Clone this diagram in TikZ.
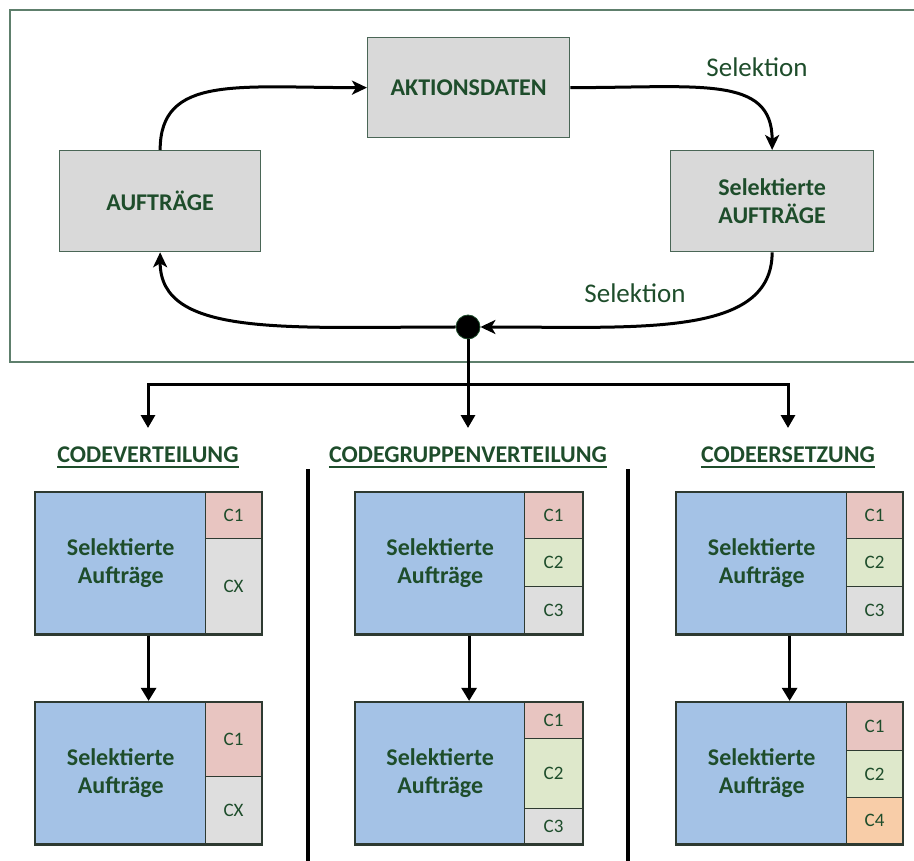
\documentclass[tikz,border=0pt]{standalone}
\usepackage{fontspec}
\setmainfont{Carlito}
\usetikzlibrary{arrows.meta,fit}
\definecolor{txtgreen}{HTML}{1E4D2B}
\definecolor{edge}{HTML}{4A6656}
\definecolor{cedge}{HTML}{2E3A31}
\definecolor{framec}{HTML}{5E7F6C}
\definecolor{boxgray}{HTML}{D9D9D9}
\definecolor{selblue}{HTML}{A4C2E6}
\definecolor{cred}{HTML}{E8C5C1}
\definecolor{cgreen}{HTML}{DEE8CB}
\definecolor{cgray}{HTML}{DEDEDE}
\definecolor{corange}{HTML}{F8CDA8}
\begin{document}
\begin{tikzpicture}[x=1pt,y=-1pt,
  bigbold/.style={font=\fontsize{24}{28}\selectfont\bfseries, text=txtgreen},
  topbox/.style={bigbold, draw=edge, line width=1.3, fill=boxgray, anchor=north west,
    inner sep=0, align=center},
  sellabel/.style={font=\fontsize{27}{32}\selectfont, text=txtgreen, inner sep=0},
  flow/.style={line width=3, -{Stealth[length=15,width=14,inset=4]}},
  link/.style={line width=3, -{Triangle[length=13,width=14]}},
  blk/.style={bigbold, draw=cedge, line width=1.4, fill=selblue, anchor=north west,
    inner sep=0, align=center},
  cell/.style={draw=cedge, line width=1.2, anchor=north west, inner sep=0,
    font=\fontsize{19}{22}\selectfont, text=txtgreen},
  outer/.style={draw=cedge, line width=2.2, inner sep=0},
  head/.style={bigbold, inner sep=0},
  uline/.style={line width=1.6, txtgreen},
  stepline/.style={line width=2.8, -{Triangle[length=13,width=15]}},
  sep/.style={line width=4.5}
]
\useasboundingbox (0,0) rectangle (914,861);

% frame around the cycle (open on the right side)
\draw[framec, line width=1.3] (920,10) -- (10,10) -- (10,362) -- (920,362);

% cycle boxes
\node[topbox, minimum width=202, minimum height=100] (akt) at (367,37) {AKTIONSDATEN};
\node[topbox, minimum width=201, minimum height=101] (auf) at (59,150) {AUFTRÄGE};
\node[topbox, minimum width=203, minimum height=101] (sel) at (670,150) {Selektierte\\AUFTRÄGE};

% junction dot
\node[circle, fill=black, draw=txtgreen, line width=0.8, minimum size=24, inner sep=0] (dot) at (468,327) {};

% cycle connectors
\draw[flow] (auf.north) .. controls +(0,-75) and +(-130,0) .. (akt.west);
\draw[flow] (akt.east) .. controls +(130,0) and +(0,-75) .. (sel.north);
\draw[flow] (sel.south) .. controls +(0,85) and +(160,0) .. (dot.east);
\draw[flow] (dot.west) .. controls +(-170,0) and +(0,85) .. (auf.south);

\node[sellabel] (lab1) at (757,67) {Selektion};
\node[sellabel] (lab2) at (635,293) {Selektion};

% distribution to the three methods
\coordinate (bar) at (468,385);
\coordinate (t1) at (148,428);
\coordinate (t2) at (468,428);
\coordinate (t3) at (788,428);
\draw[link] (dot.south) -- (t2);
\draw[link] (bar) -| (t1);
\draw[link] (bar) -| (t3);

% headings
\node[head] (h1) at (148,455) {CODEVERTEILUNG};
\node[head] (h2) at (468,455) {CODEGRUPPENVERTEILUNG};
\node[head] (h3) at (788,455) {CODEERSETZUNG};
\foreach \h in {h1,h2,h3}
  \draw[uline] ([yshift=-4]\h.base west) -- ([yshift=-4]\h.base east);

% column separators
\coordinate (s1a) at (308,469); \coordinate (s1b) at (308,870);
\coordinate (s2a) at (628,469); \coordinate (s2b) at (628,870);
\draw[sep] (s1a) -- (s1b);
\draw[sep] (s2a) -- (s2b);

% --- CODEVERTEILUNG ---
\node[blk, minimum width=170, minimum height=141] (a1) at (35,492) {Selektierte\\Aufträge};
\node[cell, fill=cred,  minimum width=56, minimum height=46] (a1c1) at (205,492) {C1};
\node[cell, fill=cgray, minimum width=56, minimum height=95] (a1cx) at (205,538) {CX};
\node[outer, fit=(a1)(a1c1)(a1cx)] (A1) {};

\node[blk, minimum width=170, minimum height=141] (a2) at (35,702) {Selektierte\\Aufträge};
\node[cell, fill=cred,  minimum width=56, minimum height=74] (a2c1) at (205,702) {C1};
\node[cell, fill=cgray, minimum width=56, minimum height=67] (a2cx) at (205,776) {CX};
\node[outer, fit=(a2)(a2c1)(a2cx)] (A2) {};
\draw[stepline] (A1.south) -- (A2.north);

% --- CODEGRUPPENVERTEILUNG ---
\node[blk, minimum width=169, minimum height=141] (b1) at (355,492) {Selektierte\\Aufträge};
\node[cell, fill=cred,   minimum width=58, minimum height=46] (b1c1) at (524,492) {C1};
\node[cell, fill=cgreen, minimum width=58, minimum height=48] (b1c2) at (524,538) {C2};
\node[cell, fill=cgray,  minimum width=58, minimum height=47] (b1c3) at (524,586) {C3};
\node[outer, fit=(b1)(b1c1)(b1c3)] (B1) {};

\node[blk, minimum width=169, minimum height=141] (b2) at (355,702) {Selektierte\\Aufträge};
\node[cell, fill=cred,   minimum width=58, minimum height=36] (b2c1) at (524,702) {C1};
\node[cell, fill=cgreen, minimum width=58, minimum height=70] (b2c2) at (524,738) {C2};
\node[cell, fill=cgray,  minimum width=58, minimum height=35] (b2c3) at (524,808) {C3};
\node[outer, fit=(b2)(b2c1)(b2c3)] (B2) {};
\draw[stepline] (B1.south) -- (B2.north);

% --- CODEERSETZUNG ---
\node[blk, minimum width=170, minimum height=141] (c1) at (676,492) {Selektierte\\Aufträge};
\node[cell, fill=cred,   minimum width=56, minimum height=46] (c1c1) at (846,492) {C1};
\node[cell, fill=cgreen, minimum width=56, minimum height=48] (c1c2) at (846,538) {C2};
\node[cell, fill=cgray,  minimum width=56, minimum height=47] (c1c3) at (846,586) {C3};
\node[outer, fit=(c1)(c1c1)(c1c3)] (C1) {};

\node[blk, minimum width=170, minimum height=141] (c2) at (676,702) {Selektierte\\Aufträge};
\node[cell, fill=cred,    minimum width=56, minimum height=48] (c2c1) at (846,702) {C1};
\node[cell, fill=cgreen,  minimum width=56, minimum height=47] (c2c2) at (846,750) {C2};
\node[cell, fill=corange, minimum width=56, minimum height=46] (c2c4) at (846,797) {C4};
\node[outer, fit=(c2)(c2c1)(c2c4)] (C2) {};
\draw[stepline] (C1.south) -- (C2.north);
\end{tikzpicture}
\end{document}
